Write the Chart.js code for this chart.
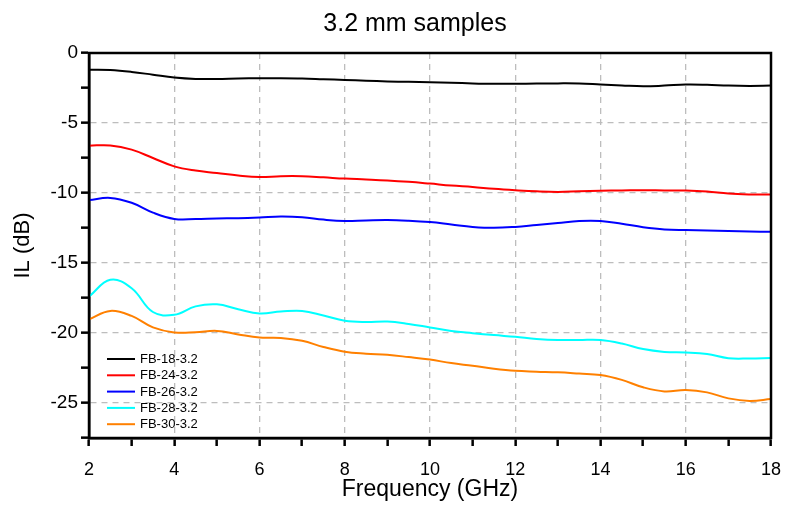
<!DOCTYPE html>
<html>
<head>
<meta charset="utf-8">
<script src="https://cdn.jsdelivr.net/npm/chart.js@4"></script>
<style>
  body { margin: 0; background: #fff; }
  #wrap { width: 785px; height: 507px; }
</style>
</head>
<body>
<div id="wrap"><canvas id="chart" width="785" height="507"></canvas></div>
<script>
// frequency points (GHz)
const freq = [2,2.5,3,3.5,4,4.5,5,5.5,6,6.5,7,7.5,8,8.5,9,9.5,10,10.5,11,11.5,12,12.5,13,13.5,14,14.5,15,15.5,16,16.5,17,17.5,18]

const labels = ['FB-18-3.2', 'FB-24-3.2', 'FB-26-3.2', 'FB-28-3.2', 'FB-30-3.2']
const colors = ['#000000', '#ff0000', '#0000ff', '#00ffff', '#ff8000']

// IL values (dB)
const fb18 = [-1.2,-1.22,-1.35,-1.55,-1.75,-1.85,-1.85,-1.82,-1.8,-1.8,-1.82,-1.87,-1.92,-1.98,-2.03,-2.06,-2.09,-2.12,-2.17,-2.2,-2.2,-2.18,-2.17,-2.18,-2.25,-2.32,-2.38,-2.33,-2.25,-2.27,-2.33,-2.35,-2.33]
const fb24 = [-6.62,-6.6,-6.9,-7.5,-8.1,-8.4,-8.57,-8.75,-8.86,-8.8,-8.8,-8.88,-8.97,-9.03,-9.1,-9.2,-9.33,-9.47,-9.57,-9.7,-9.8,-9.88,-9.92,-9.88,-9.84,-9.82,-9.8,-9.82,-9.83,-9.9,-10.04,-10.1,-10.11]
const fb26 = [-10.5,-10.35,-10.7,-11.4,-11.85,-11.86,-11.82,-11.8,-11.75,-11.68,-11.73,-11.9,-12.0,-11.96,-11.93,-11.98,-12.08,-12.25,-12.42,-12.49,-12.42,-12.28,-12.14,-12.0,-12.0,-12.2,-12.44,-12.6,-12.65,-12.68,-12.72,-12.75,-12.77]
const fb28 = [-17.4,-16.2,-16.8,-18.5,-18.7,-18.1,-17.95,-18.3,-18.6,-18.47,-18.42,-18.75,-19.13,-19.22,-19.18,-19.35,-19.6,-19.85,-20.01,-20.15,-20.27,-20.42,-20.5,-20.5,-20.5,-20.75,-21.15,-21.35,-21.39,-21.5,-21.8,-21.82,-21.79]
const fb30 = [-19.02,-18.42,-18.78,-19.6,-19.96,-19.95,-19.85,-20.1,-20.32,-20.35,-20.56,-21.0,-21.34,-21.48,-21.56,-21.72,-21.9,-22.15,-22.34,-22.55,-22.7,-22.76,-22.81,-22.9,-23.0,-23.35,-23.88,-24.17,-24.07,-24.24,-24.67,-24.85,-24.72]

const series = [fb18, fb24, fb26, fb28, fb30]
const font = 'Liberation Sans, Arial, sans-serif'

function toPoints(values) {
  return values.map(function (v, i) {
    return { x: freq[i], y: v }
  })
}

// frame, title and the legend inside the plot
const extras = {
  id: 'extras',
  afterDatasetsDraw(chart) {
    const ctx = chart.ctx
    const a = chart.chartArea
    ctx.save()
    ctx.strokeStyle = '#000'
    ctx.lineWidth = 2.5
    ctx.strokeRect(a.left, a.top, a.right - a.left, a.bottom - a.top)

    ctx.font = '13px ' + font
    ctx.textBaseline = 'middle'
    ctx.fillStyle = '#000'
    chart.data.datasets.forEach(function (ds, i) {
      const y = a.top + 306 + i * 16.3
      ctx.strokeStyle = ds.borderColor
      ctx.lineWidth = 2
      ctx.beginPath()
      ctx.moveTo(a.left + 18, y)
      ctx.lineTo(a.left + 46, y)
      ctx.stroke()
      ctx.fillText(ds.label, a.left + 51, y + 0.5)
    })

    ctx.font = '25px ' + font
    ctx.textAlign = 'center'
    ctx.textBaseline = 'alphabetic'
    ctx.fillText('3.2 mm samples', 415, 31)
    ctx.restore()
  }
}

new Chart(document.getElementById('chart'), {
  type: 'line',
  data: {
    datasets: series.map(function (values, i) {
      return {
        label: labels[i],
        data: toPoints(values),
        borderColor: colors[i],
        backgroundColor: colors[i],
        borderWidth: 2,
        pointRadius: 0,
        tension: 0.4,
        fill: false
      }
    })
  },
  options: {
    responsive: false,
    animation: false,
    layout: { padding: { top: 53, right: 14, left: 0, bottom: 0 } },
    plugins: {
      legend: { display: false },
      title: { display: false },
      tooltip: { enabled: false }
    },
    scales: {
      x: {
        type: 'linear',
        min: 2,
        max: 18,
        afterFit: function (scale) {
          scale.height = 69
          scale.paddingLeft = 0
          scale.paddingRight = 0
        },
        ticks: {
          stepSize: 1,
          color: '#000',
          font: { family: font, size: 18 },
          padding: 13,
          maxRotation: 0,
          autoSkip: false,
          callback: function (v) { return v % 2 === 0 ? v : '' }
        },
        grid: {
          color: function (c) {
            const v = c.tick ? c.tick.value : 0
            return (v % 2 === 0 && v > 2 && v < 18) ? '#bdbdbd' : 'rgba(0,0,0,0)'
          },
          lineWidth: 1.3,
          tickColor: '#000',
          tickWidth: 2.5,
          tickLength: 8
        },
        border: { display: true, color: '#000', width: 2.5, dash: [6, 5] },
        title: {
          display: true,
          text: 'Frequency (GHz)',
          color: '#000',
          font: { family: font, size: 23 },
          padding: { top: 0, bottom: 4 }
        }
      },
      y: {
        type: 'linear',
        min: -27.5,
        max: 0,
        afterFit: function (scale) {
          scale.width = 89
          scale.paddingTop = 0
          scale.paddingBottom = 0
        },
        ticks: {
          stepSize: 2.5,
          color: '#000',
          font: { family: font, size: 19 },
          padding: 3,
          autoSkip: false,
          callback: function (v) { return v % 5 === 0 ? v : '' }
        },
        grid: {
          color: function (c) {
            const v = c.tick ? c.tick.value : 0
            return (v % 5 === 0 && v < 0 && v > -27.5) ? '#bdbdbd' : 'rgba(0,0,0,0)'
          },
          lineWidth: 1.3,
          tickColor: '#000',
          tickWidth: 2.5,
          tickLength: 8
        },
        border: { display: true, color: '#000', width: 2.5, dash: [6, 5] },
        title: {
          display: true,
          text: 'IL (dB)',
          color: '#000',
          font: { family: font, size: 22 },
          padding: { top: 10, bottom: 0 }
        }
      }
    }
  },
  plugins: [extras]
})
</script>
</body>
</html>
